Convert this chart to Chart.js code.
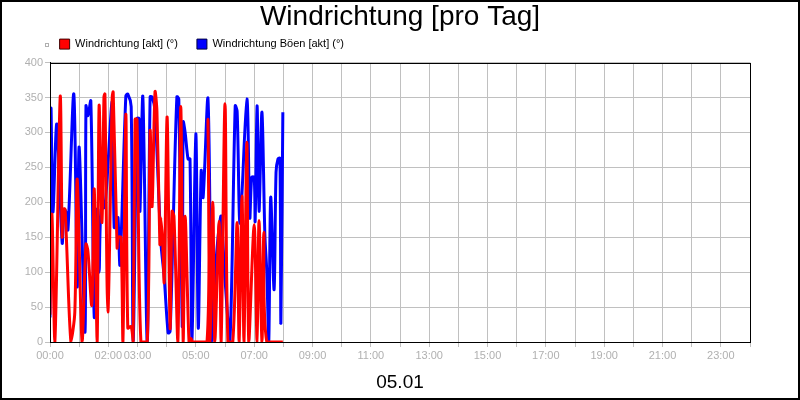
<!DOCTYPE html>
<html>
<head>
<meta charset="utf-8">
<script src="https://cdn.jsdelivr.net/npm/chart.js@4.4.1/dist/chart.umd.min.js"></script>
<style>
  html, body { margin: 0; padding: 0; background: #fff; }
</style>
</head>
<body>
<canvas id="windChart" width="800" height="400"></canvas>
<script>
// Zeitpunkte in Minuten seit 00:00, Werte in Grad
const dirTimes  = [0, 4, 10, 21, 25, 27, 31, 43, 51, 56, 66, 74, 78, 86, 91, 97, 101, 107, 111, 113, 119, 128, 130, 138, 140, 146, 150, 156, 160, 167, 171, 175, 179, 187, 200, 206, 210, 216, 220, 226, 228, 232, 235, 241, 247, 251, 255, 263, 269, 274, 278, 286, 290, 294, 323, 325, 329, 335, 339, 348, 352, 360, 366, 376, 385, 389, 395, 399, 405, 409, 420, 426, 430, 436, 440, 446, 479];
const dirValues = [39, 183, 0, 351, 151, 190, 190, 0, 42, 233, 0, 140, 130, 53, 219, 0, 338, 171, 351, 355, 43, 351, 358, 135, 150, 150, 0, 326, 20, 22, 0, 319, 319, 0, 0, 302, 194, 358, 330, 140, 178, 140, 86, 322, 20, 187, 180, 0, 337, 0, 180, 0, 5, 0, 0, 319, 0, 200, 0, 173, 0, 341, 0, 0, 171, 0, 209, 0, 286, 0, 168, 0, 174, 0, 157, 0, 0];

const gustTimes  = [0, 2, 6, 14, 25, 29, 33, 37, 49, 56, 60, 72, 74, 78, 84, 91, 97, 101, 105, 113, 128, 132, 138, 140, 144, 156, 160, 167, 171, 179, 183, 185, 191, 200, 206, 210, 216, 228, 235, 243, 247, 253, 261, 265, 272, 274, 278, 284, 288, 292, 300, 305, 311, 315, 325, 333, 341, 348, 352, 360, 370, 381, 385, 391, 405, 411, 415, 420, 422, 426, 430, 436, 442, 446, 450, 454, 461, 465, 469, 473, 475, 479];
const gustValues = [35, 334, 186, 312, 142, 190, 186, 161, 355, 79, 279, 14, 338, 324, 345, 36, 190, 100, 190, 193, 344, 164, 170, 178, 111, 352, 355, 337, 2, 320, 320, 187, 351, 0, 351, 351, 331, 144, 92, 13, 15, 158, 351, 348, 22, 315, 300, 262, 262, 3, 298, 20, 245, 207, 348, 2, 110, 165, 180, 90, 0, 338, 330, 170, 348, 178, 236, 236, 173, 338, 187, 329, 154, 100, 0, 207, 75, 243, 262, 263, 27, 329];

const shownHours = [0, 2, 3, 5, 7, 9, 11, 13, 15, 17, 19, 21, 23];

function toPoints(times, values) {
    return times.map((t, i) => ({ x: t, y: values[i] }));
}

const framePlugin = {
    id: 'frame',
    beforeDraw(chart) {
        const c = chart.ctx;
        c.save();
        c.fillStyle = '#fff';
        c.fillRect(0, 0, chart.width, chart.height);
        c.restore();
    },
    afterDraw(chart) {
        const c = chart.ctx;
        const a = chart.chartArea;
        c.save();
        c.strokeStyle = '#000';
        c.lineWidth = 1;
        c.strokeRect(Math.round(a.left) + 0.5, Math.round(a.top) + 0.5, Math.round(a.right - a.left), Math.round(a.bottom - a.top));
        c.lineWidth = 2;
        c.strokeRect(1, 1, chart.width - 2, chart.height - 2);
        // kleines graues Kästchen vor der Legende
        c.lineWidth = 1;
        c.strokeStyle = '#b0b0b0';
        c.strokeRect(45.5, 43.5, 3, 3);
        c.restore();
    }
};

const font = 'Arial, "Liberation Sans"';

new Chart(document.getElementById('windChart'), {
    type: 'line',
    data: {
        datasets: [
            { label: 'Windrichtung [akt] (°)', data: toPoints(dirTimes, dirValues), borderColor: '#ff0000', backgroundColor: '#ff0000', borderWidth: 3, pointRadius: 0, tension: 0.3 },
            { label: 'Windrichtung Böen [akt] (°)', data: toPoints(gustTimes, gustValues), borderColor: '#0000ff', backgroundColor: '#0000ff', borderWidth: 3, pointRadius: 0, tension: 0.3 }
        ]
    },
    options: {
        responsive: false,
        animation: false,
        devicePixelRatio: 1,
        layout: { padding: { left: 0, right: 0, top: 0, bottom: 6 } },
        plugins: {
            title: {
                display: true,
                text: 'Windrichtung [pro Tag]',
                color: '#000',
                font: { family: font, size: 28, weight: 'normal', lineHeight: 0.2 },
                padding: { top: 14, bottom: 0 }
            },
            legend: {
                align: 'start',
                labels: {
                    color: '#000',
                    font: { family: font, size: 11 },
                    boxWidth: 10,
                    boxHeight: 10,
                    padding: 19,
                    generateLabels(chart) {
                        const items = Chart.defaults.plugins.legend.labels.generateLabels(chart);
                        items.forEach(it => { it.strokeStyle = '#400000'; it.lineWidth = 1; });
                        items[1].strokeStyle = '#000040';
                        items.unshift({ text: '  ', fillStyle: 'rgba(0,0,0,0)', strokeStyle: 'rgba(0,0,0,0)', lineWidth: 0, hidden: false, datasetIndex: -1 });
                        return items;
                    }
                },
                onClick: () => {}
            },
            tooltip: { enabled: false }
        },
        scales: {
            x: {
                type: 'linear',
                min: 0,
                max: 1440,
                afterFit: s => { s.height = 52; },
                ticks: {
                    stepSize: 60,
                    autoSkip: false,
                    maxRotation: 0,
                    color: '#b0b0b0',
                    font: { family: font, size: 11 },
                    padding: 2,
                    callback: v => {
                        const h = v / 60;
                        return shownHours.includes(h) ? String(h).padStart(2, '0') + ':00' : '';
                    }
                },
                grid: { color: '#c0c0c0', tickLength: 5, lineWidth: 1 },
                border: { color: '#000' },
                title: {
                    display: true,
                    text: '05.01',
                    color: '#000',
                    font: { family: font, size: 19 },
                    padding: { top: 6, bottom: 0 }
                }
            },
            xTop: {
                type: 'linear',
                position: 'top',
                min: 0,
                max: 1440,
                afterFit: s => { s.height = 3; },
                ticks: { display: false },
                grid: { display: false, drawTicks: false },
                border: { display: false }
            },
            y: {
                min: 0,
                max: 400,
                afterFit: s => { s.width = 50; },
                ticks: {
                    stepSize: 50,
                    color: '#b0b0b0',
                    font: { family: font, size: 11 },
                    padding: 2
                },
                grid: { color: '#c0c0c0', tickLength: 5, lineWidth: 1 },
                border: { color: '#000' }
            },
            yRight: {
                position: 'right',
                min: 0,
                max: 400,
                afterFit: s => { s.width = 50; },
                ticks: { display: false },
                grid: { display: false, drawTicks: false },
                border: { display: false }
            }
        }
    },
    plugins: [framePlugin]
});
</script>
</body>
</html>
